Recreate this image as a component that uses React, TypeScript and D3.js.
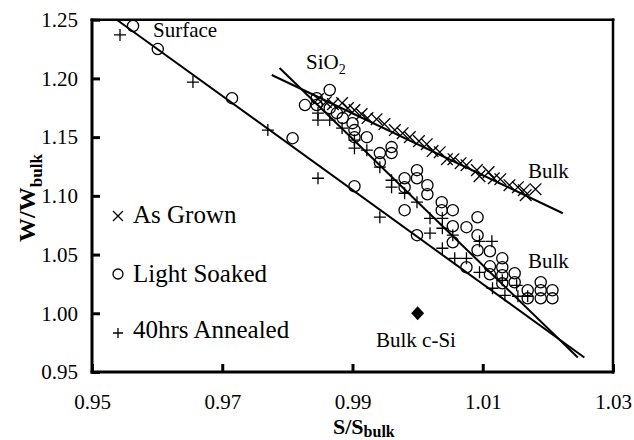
import React, { useEffect, useRef } from "react";
import { axisBottom, axisLeft, line, scaleLinear, select } from "d3";

// As Grown (x markers)
const grownX = [0.9847, 0.9859, 0.987, 0.9884, 0.9893, 0.9903, 0.9914, 0.9923, 0.9937, 0.9949, 0.9965, 0.9977, 0.9988, 1.0002, 1.0014, 1.0023, 1.0034, 1.0045, 1.0055, 1.0066, 1.0075, 1.0091, 1.0095, 1.0109, 1.0117, 1.0127, 1.0141, 1.0154, 1.0163, 1.0166, 1.0181];
const grownY = [1.1824, 1.1798, 1.1781, 1.179, 1.1747, 1.173, 1.1696, 1.1662, 1.1653, 1.1611, 1.156, 1.1534, 1.15, 1.1466, 1.144, 1.1381, 1.1372, 1.1312, 1.1312, 1.1278, 1.1261, 1.1219, 1.1168, 1.1202, 1.115, 1.1142, 1.1091, 1.1074, 1.1048, 1.1006, 1.1057];

// Light Soaked (open circles)
const soakedX = [0.9563, 0.9601, 0.9715, 0.9808, 0.9903, 0.9999, 1.0075, 0.9827, 0.9845, 0.9845, 0.9865, 0.9865, 0.9876, 0.9885, 0.99, 0.9903, 0.9903, 0.9922, 0.9942, 0.9942, 0.996, 0.996, 0.998, 0.998, 0.9999, 0.9999, 1.0015, 1.0015, 1.0037, 1.0037, 1.0054, 0.998, 1.0092, 1.0092, 1.0075, 1.0054, 1.0054, 1.0092, 1.0111, 1.013, 1.013, 1.0111, 1.0111, 1.013, 1.013, 1.0149, 1.0149, 1.0169, 1.0169, 1.0189, 1.0189, 1.0189, 1.0207, 1.0207];
const soakedY = [1.2446, 1.225, 1.1832, 1.1491, 1.1082, 1.0665, 1.0392, 1.1773, 1.1832, 1.1773, 1.1901, 1.1747, 1.1705, 1.1662, 1.1619, 1.156, 1.15, 1.15, 1.1364, 1.1287, 1.1415, 1.1364, 1.115, 1.1074, 1.1219, 1.115, 1.1091, 1.1014, 1.0946, 1.0878, 1.0878, 1.0878, 1.0818, 1.0665, 1.0733, 1.0741, 1.0605, 1.0537, 1.0528, 1.0468, 1.0392, 1.04, 1.0332, 1.0324, 1.0255, 1.0341, 1.0264, 1.0196, 1.0127, 1.0264, 1.0196, 1.0127, 1.0196, 1.0127];

// 40hrs Annealed (plus markers)
const annealedX = [0.9543, 0.9655, 0.977, 0.9847, 0.9942, 0.9847, 0.9847, 0.9865, 0.9884, 0.9903, 0.9903, 0.9922, 0.9942, 0.996, 0.996, 0.998, 0.9999, 1.0019, 1.0038, 1.0038, 1.0019, 1.0054, 1.0038, 1.0057, 1.0075, 1.0095, 1.0114, 1.0095, 1.0115, 1.013, 1.0152, 1.0154, 1.0169, 1.0134];
const annealedY = [1.237, 1.1969, 1.156, 1.115, 1.0818, 1.1705, 1.1645, 1.1645, 1.1577, 1.1474, 1.1406, 1.1389, 1.1244, 1.1133, 1.1074, 1.1022, 1.0946, 1.0809, 1.0809, 1.0724, 1.0682, 1.0665, 1.0554, 1.0468, 1.0468, 1.0613, 1.0613, 1.0349, 1.0213, 1.0281, 1.0238, 1.0145, 1.0145, 1.0153];

// fitted lines (end points)
const surfaceFitX = [0.9538, 1.0256];
const surfaceFitY = [1.25, 0.9624];
const steepFitX = [0.9788, 1.0246];
const steepFitY = [1.2088, 0.9624];
const grownFitX = [0.9776, 1.0223];
const grownFitY = [1.2029, 1.0852];

const bulkSiX = [1.0];
const bulkSiY = [1.0];

const xTicks = [0.95, 0.97, 0.99, 1.01, 1.03];
const yTicks = [0.95, 1.0, 1.05, 1.1, 1.15, 1.2, 1.25];

const FONT = "Liberation Serif, DejaVu Serif, serif";

const zip = (xs, ys) => xs.map((x, i) => [x, ys[i]]);

const App = () => {
  const svgRef = useRef(null);

  useEffect(() => {
    const svg = select(svgRef.current);

    const xScale = scaleLinear().domain([0.95, 1.03]).range([92, 613]);
    const yScale = scaleLinear().domain([0.95, 1.25]).range([372, 19.7]);

    const yAxis = axisLeft(yScale)
      .tickValues(yTicks)
      .tickSizeInner(-8)
      .tickSizeOuter(0)
      .tickPadding(14)
      .tickFormat(d => d.toFixed(2));
    svg.select(".y-axis").attr("transform", "translate(92,0)").call(yAxis);

    const xAxis = axisBottom(xScale)
      .tickValues(xTicks)
      .tickSizeInner(-8)
      .tickSizeOuter(0)
      .tickPadding(22)
      .tickFormat(d => d.toFixed(2));
    svg.select(".x-axis").attr("transform", "translate(0,372)").call(xAxis);

    svg.selectAll(".x-axis, .y-axis")
      .attr("font-family", null)
      .attr("font-size", null)
      .style("font-family", FONT)
      .style("font-size", "21px");
    svg.selectAll(".domain").remove();
    svg.selectAll(".tick line").attr("stroke", "#000").attr("stroke-width", 3);
    svg.selectAll(".tick text").attr("fill", "#000");

    // fit lines
    const fitLine = line()
      .x(d => xScale(d[0]))
      .y(d => yScale(d[1]));
    svg
      .select(".fits")
      .selectAll("path")
      .data([zip(surfaceFitX, surfaceFitY), zip(steepFitX, steepFitY), zip(grownFitX, grownFitY)])
      .join("path")
      .attr("d", fitLine)
      .attr("fill", "none")
      .attr("stroke", "#000")
      .attr("stroke-width", 2);

    // as grown
    svg
      .select(".grown")
      .selectAll("path")
      .data(zip(grownX, grownY))
      .join("path")
      .attr("transform", d => `translate(${xScale(d[0])},${yScale(d[1])})`)
      .attr("d", "M-5.8,-5.8L5.8,5.8M-5.8,5.8L5.8,-5.8")
      .attr("stroke", "#000")
      .attr("stroke-width", 1.3)
      .attr("fill", "none");

    // light soaked
    svg
      .select(".soaked")
      .selectAll("circle")
      .data(zip(soakedX, soakedY))
      .join("circle")
      .attr("cx", d => xScale(d[0]))
      .attr("cy", d => yScale(d[1]))
      .attr("r", 5.6)
      .attr("fill", "none")
      .attr("stroke", "#000")
      .attr("stroke-width", 1.3);

    // annealed
    svg
      .select(".annealed")
      .selectAll("path")
      .data(zip(annealedX, annealedY))
      .join("path")
      .attr("transform", d => `translate(${xScale(d[0])},${yScale(d[1])})`)
      .attr("d", "M-6,0H6M0,-6V6")
      .attr("stroke", "#000")
      .attr("stroke-width", 1.3)
      .attr("fill", "none");

    // bulk c-Si
    svg
      .select(".bulk")
      .selectAll("path")
      .data(zip(bulkSiX, bulkSiY))
      .join("path")
      .attr("transform", d => `translate(${xScale(d[0])},${yScale(d[1])})`)
      .attr("d", "M0,-7L6.5,0L0,7L-6.5,0Z")
      .attr("fill", "#000");
  }, []);

  return (
    <svg
      ref={svgRef}
      width={634}
      height={440}
      style={{ position: "absolute", left: 0, top: 0, background: "#fff", fontFamily: FONT }}
    >
      <rect x={0} y={0} width={634} height={440} fill="#fff" />
      <g className="fits" />
      <g className="grown" />
      <g className="soaked" />
      <g className="annealed" />
      <g className="bulk" />
      <g className="x-axis" />
      <g className="y-axis" />

      {/* frame */}
      <line x1={92} x2={92} y1={18.5} y2={373.5} stroke="#000" strokeWidth={3} />
      <line x1={90.5} x2={614.5} y1={372} y2={372} stroke="#000" strokeWidth={3} />
      <line x1={90.5} x2={614.5} y1={19.7} y2={19.7} stroke="#000" strokeWidth={2.5} />
      <line x1={613} x2={613} y1={18.5} y2={373.5} stroke="#000" strokeWidth={2.5} />

      {/* annotations */}
      <text x={153} y={37} fontSize={21}>Surface</text>
      <text x={306} y={69} fontSize={21}>
        SiO<tspan dy={5} fontSize={14}>2</tspan>
      </text>
      <text x={528} y={178} fontSize={21}>Bulk</text>
      <text x={528} y={268} fontSize={21}>Bulk</text>
      <text x={376} y={347} fontSize={21}>Bulk c-Si</text>

      {/* legend */}
      <path d="M113,211L123,221M113,221L123,211" stroke="#000" strokeWidth={1.3} />
      <text x={133} y={223} fontSize={25}>As Grown</text>
      <circle cx={118} cy={274} r={5} fill="none" stroke="#000" strokeWidth={1.3} />
      <text x={133} y={282} fontSize={25}>Light Soaked</text>
      <path d="M113,333H123M118,328V338" stroke="#000" strokeWidth={1.3} />
      <text x={133} y={338} fontSize={25}>40hrs Annealed</text>

      {/* axis titles */}
      <text x={333} y={434} fontSize={22} fontWeight="bold">
        S/S<tspan dy={3} fontSize={16}>bulk</tspan>
      </text>
      <text transform="translate(35,198) rotate(-90)" textAnchor="middle" fontSize={24} fontWeight="bold">
        W/W<tspan dy={7} fontSize={17}>bulk</tspan>
      </text>
    </svg>
  );
};

export default App;
